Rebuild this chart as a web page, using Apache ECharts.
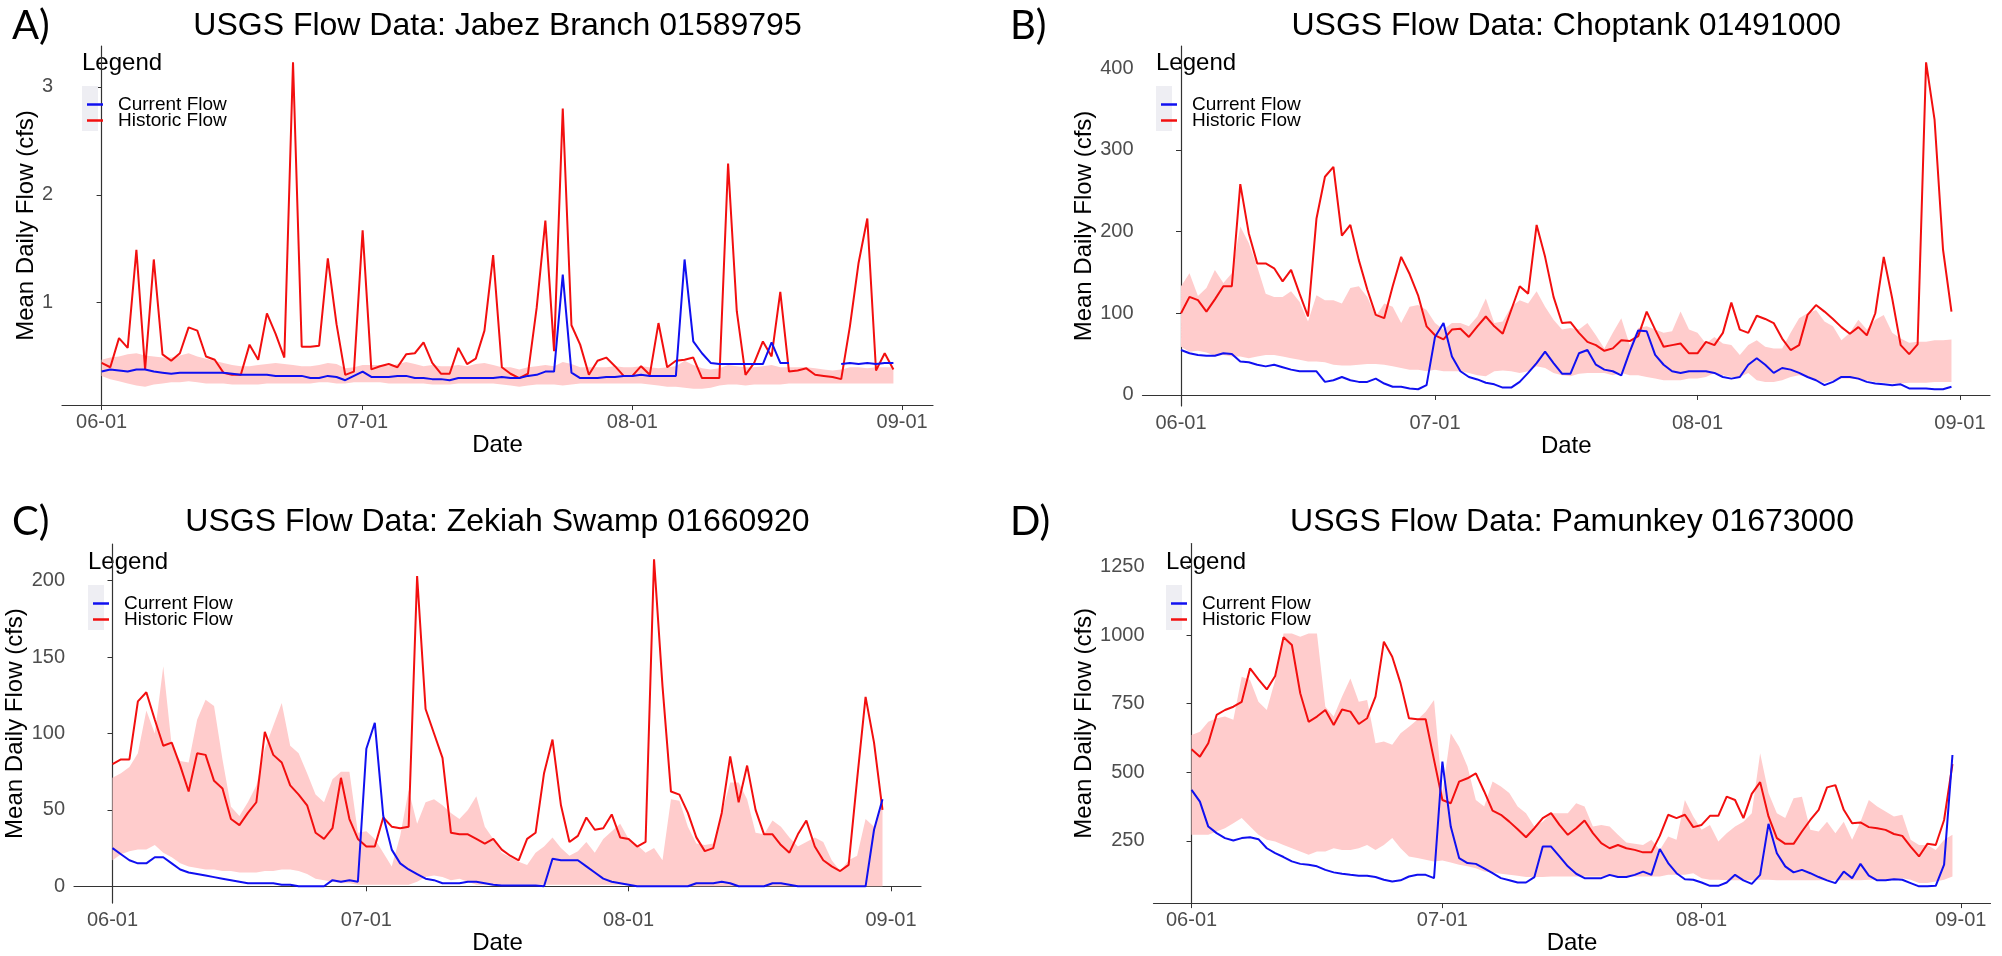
<!DOCTYPE html>
<html>
<head>
<meta charset="utf-8">
<script src="https://cdn.jsdelivr.net/npm/echarts@6/dist/echarts.min.js"></script>
<style>
html, body { margin: 0; padding: 0; background: #fff; }
#main { width: 2002px; height: 956px; }
</style>
</head>
<body>
<div id="main"></div>
<script>
// x = day number counted from 06-01 (0 .. 91 = 06-01 .. 08-31)
var dayTicks = [0, 30, 61, 92];
var dayLabels = ['06-01', '07-01', '08-01', '09-01'];

// A) Jabez Branch 01589795
var jabezCur = [0.36,0.38,0.37,0.36,0.38,0.38,0.36,0.35,0.34,0.35, 0.35,0.35,0.35,0.35,0.35,0.34,0.33,0.33,0.33,0.33,
  0.32,0.32,0.32,0.32,0.30,0.30,0.32,0.31,0.28,0.32, 0.36,0.31,0.31,0.31,0.32,0.32,0.30,0.30,0.29,0.29,
  0.28,0.30,0.30,0.30,0.30,0.30,0.31,0.30,0.30,0.32, 0.33,0.36,0.36,1.26,0.35,0.30,0.30,0.30,0.31,0.31,
  0.32,0.32,0.33,0.32,0.32,0.32,0.32,1.40,0.64,0.53, 0.44,0.43,0.43,0.43,0.43,0.43,0.43,0.63,0.44,0.44,
  null,null,null,null,null,0.43,0.44,0.43,0.44,0.43, 0.44,0.44];
var jabezHist = [0.44,0.40,0.67,0.58,1.49,0.38,1.40,0.52,0.46,0.53, 0.77,0.74,0.50,0.47,0.35,0.33,0.33,0.61,0.47,0.90,
  0.71,0.49,3.23,0.59,0.59,0.60,1.41,0.80,0.33,0.36, 1.67,0.38,0.41,0.43,0.40,0.52,0.53,0.63,0.44,0.34,
  0.34,0.58,0.43,0.48,0.74,1.44,0.40,0.34,0.30,0.34, 0.95,1.76,0.55,2.80,0.79,0.61,0.33,0.46,0.49,0.41,
  0.32,0.32,0.41,0.33,0.81,0.40,0.46,0.47,0.49,0.30, 0.30,0.30,2.29,0.92,0.33,0.44,0.64,0.50,1.10,0.36,
  0.37,0.39,0.33,0.32,0.31,0.29,0.78,1.37,1.78,0.37, 0.53,0.38];
var jabezLo = [0.32,0.29,0.27,0.25,0.23,0.22,0.24,0.25,0.26,0.26, 0.27,0.26,0.25,0.25,0.25,0.24,0.24,0.24,0.24,0.25,
  0.25,0.25,0.25,0.25,0.25,0.26,0.26,0.25,0.25,0.26, 0.26,0.26,0.26,0.25,0.25,0.25,0.25,0.25,0.24,0.24,
  0.24,0.25,0.25,0.25,0.25,0.25,0.24,0.23,0.22,0.23, 0.24,0.24,0.24,0.23,0.24,0.25,0.25,0.25,0.25,0.25,
  0.25,0.25,0.25,0.24,0.23,0.22,0.22,0.21,0.20,0.20, 0.21,0.23,0.24,0.24,0.23,0.24,0.24,0.24,0.24,0.25,
  0.25,0.25,0.25,0.25,0.25,0.25,0.25,0.25,0.25,0.25, 0.25,0.25];
var jabezHi = [0.47,0.49,0.50,0.52,0.53,0.51,0.50,0.49,0.49,0.51, 0.53,0.50,0.48,0.46,0.44,0.42,0.41,0.41,0.42,0.43,
  0.44,0.43,0.42,0.41,0.41,0.42,0.44,0.43,0.39,0.40, 0.42,0.42,0.42,0.41,0.43,0.45,0.43,0.41,0.42,0.41,
  0.41,0.42,0.41,0.43,0.44,0.42,0.40,0.40,0.38,0.40, 0.41,0.42,0.41,0.45,0.43,0.40,0.40,0.40,0.40,0.41,
  0.40,0.40,0.41,0.40,0.39,0.40,0.41,0.46,0.42,0.39, 0.38,0.39,0.42,0.41,0.40,0.40,0.41,0.42,0.40,0.40,
  0.40,0.40,0.39,0.38,0.37,0.38,0.40,0.40,0.39,0.40, 0.40,0.40];

// B) Choptank 01491000
var chopCur = [55,51,49,48,48,51,50,41,40,37, 35,37,34,31,29,29,29,16,18,22,
  18,16,16,20,14,10,10,8,7,12, 71,88,47,29,22,19,15,13,9,9,
  16,27,39,53,39,26,26,51,55,37, 31,29,24,53,79,78,49,37,29,27,
  29,29,29,27,22,20,22,37,45,37, 27,33,31,27,22,18,12,16,22,22,
  20,16,14,13,12,13,8,8,8,7, 7,10];
var chopHist = [100,120,116,102,117,133,133,258,198,161, 161,155,139,153,124,96,216,267,279,195,
  208,165,129,98,94,133,169,148,122,84, 73,68,80,81,71,84,96,84,75,104,
  133,124,208,169,120,88,89,76,65,61, 54,57,67,66,72,102,80,59,61,63,
  51,51,65,61,76,113,80,76,97,93, 88,69,55,61,98,110,102,93,83,75,
  83,73,100,169,118,61,50,62,407,337, 178,102];
var chopLo = [59,53,54,52,48,49,47,47,45,47, 49,49,47,45,43,41,41,40,37,36,
  36,37,38,38,37,35,33,31,31,29, 31,29,29,29,27,24,23,29,30,29,
  27,29,35,33,27,24,23,26,27,27, 27,24,27,24,24,22,20,18,18,18,
  20,20,22,27,24,22,22,27,18,16, 16,18,22,24,22,18,15,18,20,20,
  19,18,16,15,14,14,15,15,15,16, 16,16];
var chopHi = [133,149,121,131,153,137,149,206,186,157, 124,120,120,127,114,90,122,116,116,112,
  131,133,120,96,112,108,88,108,110,104, 88,80,88,88,84,96,118,88,90,108,
  116,112,127,108,92,80,82,80,88,73, 57,76,94,61,82,84,80,76,78,102,
  80,76,63,71,63,61,49,61,67,59, 57,57,76,94,100,104,90,84,67,76,
  92,80,92,98,76,69,64,65,65,67, 67,68];

// C) Zekiah Swamp 01660920
var zekCur = [25,21,17,15,15,19,19,15,11,9, 8,7,6,5,4,3,2,2,2,2,
  1,1,0,0,0,0,4,3,4,3, 90,107,46,24,15,11,8,5,4,2,
  2,2,3,3,2,1,0.5,0.5,0.5,0.5, 0.5,0,18,17,17,17,13,9,5,3,
  2,1,0,0,0,0,0,0,0,2, 2,2,3,2,0,0,0,0,2,2,
  1,0,0,0,0,0,0,0,0,0, 37,57];
var zekHist = [80,83,83,121,127,109,92,94,79,62, 87,86,69,64,44,40,48,55,101,86,
  81,66,60,53,35,31,38,71,44,31, 26,26,45,39,38,39,203,116,100,84,
  35,34,34,31,28,31,24,20,17,31, 35,74,96,53,29,33,45,37,38,47,
  32,31,26,29,214,131,62,60,48,32, 23,25,48,85,55,79,50,34,34,27,
  22,34,43,26,17,13,10,14,70,124, 94,50];
var zekLo = [17,21,23,24,24,27,22,19,15,13, 12,11,11,10,10,9,9,9,10,10,
  11,11,10,8,5,4,3,2,2,1, 1,1,1,1,1,1,3,6,7,6,
  4,5,3,1,1,1,1,1,1,1, 1,1,1,1,1,1,1,1,1,1,
  1,1,0,0,0,0,0,0,0,0, 0,0,0,0,0,0,0,0,0,0,
  0,0,0,0,0,0,0,0,0,0, 0,0];
var zekHi = [71,74,78,87,115,100,144,92,82,81, 109,122,118,83,52,46,55,66,90,105,
  120,92,87,74,60,55,70,75,75,35, 36,31,22,13,33,63,41,55,57,53,
  48,44,50,59,39,31,22,19,16,14, 22,26,32,25,20,23,29,22,31,36,
  41,31,27,22,25,17,57,56,39,28, 27,28,48,68,68,57,35,34,43,39,
  32,26,29,32,29,17,10,17,20,44, 39,57];

// D) Pamunkey 01673000
var pamCur = [436,393,302,278,260,251,260,263,256,223, 205,191,175,166,163,157,144,135,130,126,
  123,123,118,108,102,106,120,126,126,114, 539,302,187,169,166,150,132,114,106,98,
  98,118,229,229,193,157,130,114,114,114, 126,118,118,126,138,126,220,169,132,110,
  108,98,86,86,98,126,106,93,126,312, 205,157,135,144,132,118,106,96,138,114,
  166,123,106,106,110,108,96,84,84,86, 163,563];
var pamHist = [584,557,606,709,727,739,757,879,839,802, 851,992,964,788,684,703,727,672,729,721,
  676,697,776,976,921,824,697,693,693,545, 399,387,466,478,496,430,360,345,320,292,
  263,296,333,351,308,272,296,324,278,242, 223,235,223,217,208,208,268,345,333,345,
  300,308,341,341,411,399,333,421,464,339, 260,239,239,284,326,363,445,453,363,314,
  317,300,296,290,275,268,229,193,239,235, 326,530];
var pamLo = [272,272,272,284,296,314,333,302,272,254, 248,235,223,211,199,211,211,223,217,217,
  223,235,217,235,260,223,193,187,181,175, 178,171,163,157,150,138,135,130,126,123,
  118,118,118,120,120,120,120,120,120,120, 120,120,120,120,120,120,120,126,126,126,
  132,114,108,108,106,106,106,106,108,108, 106,106,106,106,106,106,106,106,106,106,
  106,108,108,108,108,114,108,96,96,102, 108,120];
var pamHi = [636,648,684,697,703,691,848,836,757,727, 836,1006,1006,994,1006,1006,739,703,776,842,
  757,763,606,612,600,642,666,691,721,763, 424,642,593,521,399,375,466,448,424,375,
  351,302,320,351,351,351,387,375,302,308, 302,272,244,239,235,254,217,266,254,399,
  339,290,308,248,278,302,320,351,569,424, 351,333,405,411,290,284,320,278,320,254,
  320,399,375,357,339,345,254,235,235,217, 254,272];

var yTicksA = [1, 2, 3];
var yTicksB = [0, 100, 200, 300, 400];
var yTicksC = [0, 50, 100, 150, 200];
var yTicksD = [250, 500, 750, 1000, 1250];

var FONT = '"Liberation Sans", Arial, sans-serif';

var panels = [
  { tag: 'A)', title: 'USGS Flow Data: Jabez Branch 01589795', tagX: 12, rowY: 26,
    grid: { left: 62, top: 46, width: 871, height: 359 }, yMin: 0.05, yMax: 3.38, yTicks: yTicksA,
    yGap: 20, xGap: 24, legX: 82, legTop: 63,
    cur: jabezCur, hist: jabezHist, lo: jabezLo, hi: jabezHi },
  { tag: 'B)', title: 'USGS Flow Data: Choptank 01491000', tagX: 1010, rowY: 26,
    grid: { left: 1142.5, top: 46, width: 847.5, height: 360 }, yMin: -13.5, yMax: 427, yTicks: yTicksB,
    yGap: 35, xGap: 24, legX: 1156, legTop: 63,
    cur: chopCur, hist: chopHist, lo: chopLo, hi: chopHi },
  { tag: 'C)', title: 'USGS Flow Data: Zekiah Swamp 01660920', tagX: 12, rowY: 522,
    grid: { left: 74, top: 544, width: 847, height: 359.5 }, yMin: -11, yMax: 224, yTicks: yTicksC,
    yGap: 34, xGap: 21, legX: 88, legTop: 562,
    cur: zekCur, hist: zekHist, lo: zekLo, hi: zekHi },
  { tag: 'D)', title: 'USGS Flow Data: Pamunkey 01673000', tagX: 1010, rowY: 522,
    grid: { left: 1153.5, top: 543.5, width: 837, height: 360 }, yMin: 23, yMax: 1334, yTicks: yTicksD,
    yGap: 45, xGap: 21, legX: 1166, legTop: 562,
    cur: pamCur, hist: pamHist, lo: pamLo, hi: pamHi }
];

function pairs(arr) {
  return arr.map(function (v, d) { return [d, v]; });
}

// historic range ribbon drawn as one polygon through the axis scales
function renderRibbon(params, api) {
  if (params.dataIndexInside !== 0) return;
  var n = params.dataInsideLength;
  var top = [], bot = [];
  for (var k = 0; k < n; k++) {
    top.push(api.coord([api.value(0, k), api.value(2, k)]));
    bot.push(api.coord([api.value(0, k), api.value(1, k)]));
  }
  return {
    type: 'polygon',
    shape: { points: top.concat(bot.reverse()) },
    style: { fill: '#ffcccc', stroke: null }
  };
}

var grids = [], xAxes = [], yAxes = [], series = [], legends = [], graphics = [];

panels.forEach(function (p, i) {
  grids.push(p.grid);
  xAxes.push({
    type: 'value', gridIndex: i, min: -4.55, max: 95.55,
    name: 'Date', nameLocation: 'middle', nameGap: p.xGap,
    nameTextStyle: { fontSize: 24, color: '#000', fontFamily: FONT },
    axisLine: { lineStyle: { color: '#333', width: 1.2 } },
    axisTick: { customValues: dayTicks, length: 5, lineStyle: { color: '#333' } },
    axisLabel: {
      customValues: dayTicks, fontSize: 20, color: '#4d4d4d', fontFamily: FONT, margin: 7,
      formatter: function (v) { return dayLabels[dayTicks.indexOf(v)]; }
    },
    splitLine: { show: false }
  });
  yAxes.push({
    type: 'value', gridIndex: i, min: p.yMin, max: p.yMax,
    name: 'Mean Daily Flow (cfs)', nameLocation: 'middle', nameGap: p.yGap,
    nameTextStyle: { fontSize: 24, color: '#000', fontFamily: FONT },
    axisLine: { show: true, lineStyle: { color: '#333', width: 1.2 } },
    axisTick: { show: true, customValues: p.yTicks, length: 5, lineStyle: { color: '#333' } },
    axisLabel: {
      customValues: p.yTicks, fontSize: 20, color: '#4d4d4d', fontFamily: FONT, margin: 9,
      formatter: function (v) { return String(v); }
    },
    splitLine: { show: false }
  });

  series.push({
    type: 'custom', xAxisIndex: i, yAxisIndex: i, silent: true, clip: true,
    renderItem: renderRibbon,
    encode: { x: 0, y: [1, 2] },
    data: p.lo.map(function (v, d) { return [d, v, p.hi[d]]; }),
    z: 1
  });
  series.push({
    name: 'Historic Flow', type: 'line', xAxisIndex: i, yAxisIndex: i,
    symbol: 'none', color: '#f20f0f', lineStyle: { color: '#f20f0f', width: 2 },
    data: pairs(p.hist), z: 3
  });
  series.push({
    name: 'Current Flow', type: 'line', xAxisIndex: i, yAxisIndex: i,
    symbol: 'none', color: '#1010f0', lineStyle: { color: '#1010f0', width: 2 },
    data: pairs(p.cur), z: 4
  });

  legends.push({
    left: p.legX, top: p.legTop + 27, orient: 'vertical', icon: 'rect',
    itemWidth: 16, itemHeight: 2.5, itemGap: -3, selectedMode: false,
    data: ['Current Flow', 'Historic Flow'],
    textStyle: { fontSize: 19, color: '#000', fontFamily: FONT, lineHeight: 18, padding: [0, 0, 0, 10] }
  });

  var g = p.grid;
  graphics.push({
    type: 'rect', z: 2, shape: { x: p.legX, y: p.legTop + 23, width: 16, height: 45 },
    style: { fill: '#eeeef3' }
  });
  graphics.push({
    type: 'text', x: p.legX, y: p.legTop,
    style: { text: 'Legend', fontSize: 24, fontFamily: FONT, fill: '#000', verticalAlign: 'middle', textVerticalAlign: 'middle' }
  });
  graphics.push({
    type: 'text', x: p.tagX, y: p.rowY,
    style: { text: p.tag, fontSize: 40, fontFamily: 'Lato, "Open Sans", sans-serif', fill: '#000', verticalAlign: 'middle', textVerticalAlign: 'middle' }
  });
  // title centred over the plotting panel
  graphics.push({
    type: 'text', x: g.left + g.width / 2, y: p.rowY,
    style: { text: p.title, fontSize: 32, fontFamily: FONT, fill: '#000', align: 'center', textAlign: 'center', verticalAlign: 'middle', textVerticalAlign: 'middle' }
  });
});

var chart = echarts.init(document.getElementById('main'));
chart.setOption({
  animation: false,
  backgroundColor: '#fff',
  grid: grids,
  xAxis: xAxes,
  yAxis: yAxes,
  legend: legends,
  graphic: graphics,
  series: series
});
</script>
</body>
</html>
